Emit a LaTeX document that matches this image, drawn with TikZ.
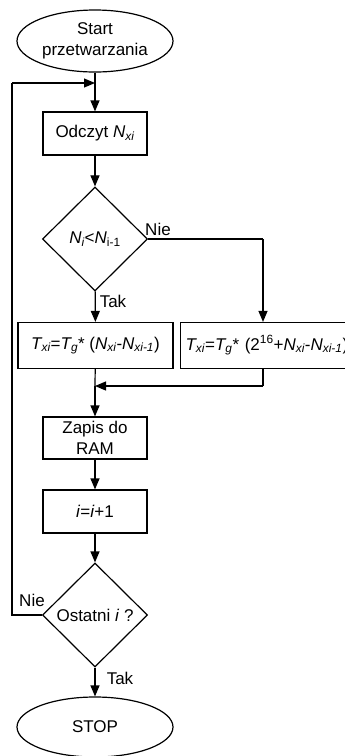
\documentclass[tikz,border=0pt]{standalone}
\usepackage{fontspec}
\setmainfont{Liberation Sans}
\usetikzlibrary{shapes.geometric,arrows.meta}
\newcommand{\ssub}[1]{\textsubscript{#1}}
\newcommand{\ssup}[1]{\textsuperscript{#1}}
\begin{document}
\begin{tikzpicture}[x=1pt,y=-1pt,
  every node/.style={font=\fontsize{17}{21}\selectfont},
  line/.style={line width=1.2pt},
  flow/.style={line, -{Triangle[length=11pt,width=9pt]}},
  term/.style={ellipse, draw, line width=1.2pt, inner sep=0pt, minimum width=156pt, align=center},
  proc/.style={rectangle, draw, line width=1.2pt, inner sep=0pt, minimum width=104pt, minimum height=43pt, align=center},
  cond/.style={diamond, draw, line width=1.2pt, inner sep=0pt, minimum width=105pt, minimum height=104pt},
  lbl/.style={inner sep=0pt}]
\useasboundingbox (0,0) rectangle (345,756);
\clip (0,0) rectangle (345,756);

% terminals, processing steps and decisions
\node[term, minimum height=62pt] (start) at (95,41) {Start\\przetwarzania};
\coordinate (join) at (95,83);
\node[proc] (read) at (95,133.5) {Odczyt \textit{N\ssub{xi}}};
\node[cond] (dec1) at (95,239) {\textit{N\ssub{i}}<\textit{N}\ssub{i-1}};
\node[proc, minimum width=155pt, minimum height=46pt] (calcA) at (95.5,345.5)
  {\textit{T\ssub{xi}}=\textit{T\ssub{g}}* (\textit{N\ssub{xi}}-\textit{N\ssub{xi-1}})};
\node[proc, minimum width=210pt, minimum height=46pt, anchor=west, text width=200pt, align=left] (calcB) at (180,345.5)
  {\textit{T\ssub{xi}}=\textit{T\ssub{g}}* (2\ssup{16}+\textit{N\ssub{xi}}-\textit{N\ssub{xi-1}})};
\coordinate (merge) at (95,386);
\coordinate (mergeR) at (263,386);
\coordinate (branchR) at (263,239);
\node[proc, minimum height=42pt] (ram) at (95,438) {Zapis do\\RAM};
\node[proc] (inc) at (95,511.5) {\textit{i}=\textit{i}+1};
\node[cond] (dec2) at (95,615) {Ostatni \textit{i} ?};
\node[term, minimum height=60pt] (stop) at (95,727) {STOP};
\coordinate (loopB) at (12,615);
\coordinate (loopT) at (12,83);

% connectors
\draw[line] (start) -- (join);
\draw[flow] (join) -- (read);
\draw[flow] (read) -- (dec1);
\draw[flow] (dec1) -- (calcA);
\draw[line] (dec1.east) -- (branchR);
\draw[flow] (branchR) -- (calcB.north -| branchR);
\draw[line] (calcA) -- (merge);
\draw[line] (calcB.south -| mergeR) -- (mergeR);
\draw[flow] (mergeR) -- (merge);
\draw[flow] (merge) -- (ram);
\draw[flow] (ram) -- (inc);
\draw[flow] (inc) -- (dec2);
\draw[flow] (dec2) -- (stop);
\draw[line] (dec2.west) -- (loopB) -- (loopT);
\draw[flow] (loopT) -- (join);

% branch labels
\node[lbl] (nie1) at (158,229) {Nie};
\node[lbl] (tak1) at (113,301) {Tak};
\node[lbl] (nie2) at (32,600) {Nie};
\node[lbl] (tak2) at (120,678) {Tak};
\end{tikzpicture}
\end{document}
